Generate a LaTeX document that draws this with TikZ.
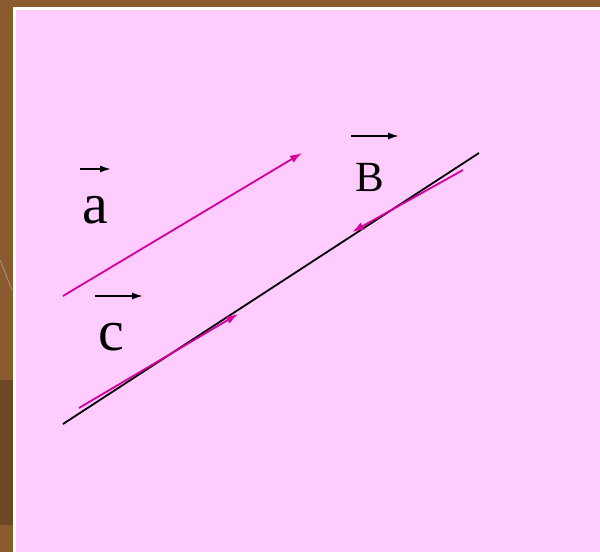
\documentclass[tikz,border=0pt]{standalone}
\usepackage{fontspec}
\setmainfont{Liberation Serif}
\usetikzlibrary{arrows.meta}
\definecolor{bgbrown}{HTML}{8B5A2E}
\definecolor{darkbrown}{HTML}{6E4826}
\definecolor{panelpink}{HTML}{FFCCFF}
\definecolor{vecmag}{HTML}{D4009A}
\tikzset{
  vec/.style={draw=vecmag, line width=1.8pt, -{Latex[length=12pt,width=8pt]}},
  baseline/.style={draw=black, line width=1.8pt},
  labelarrow/.style={draw=black, line width=1.6pt, -{Latex[length=11pt,width=7pt]}},
  biglabel/.style={font=\fontsize{58}{60}\selectfont, inner sep=0pt},
  midlabel/.style={font=\fontsize{43}{45}\selectfont, inner sep=0pt}
}
\begin{document}
\begin{tikzpicture}[x=1pt,y=-1pt]
\useasboundingbox (0,0) rectangle (600,552);
\fill[bgbrown] (0,0) rectangle (600,552);
\fill[darkbrown] (0,380) rectangle (14,525);
\draw[bgbrown!70!white, line width=1pt] (0,260) -- (12,290);
\fill[white] (13,7) rectangle (600,552);
\fill[panelpink] (16,10) rectangle (600,552);

% main black line
\coordinate (L1) at (63,424);
\coordinate (L2) at (479,153);
\draw[baseline] (L1) -- (L2);

% vector a
\coordinate (a1) at (63,296);
\coordinate (a2) at (302,153);
\draw[vec] (a1) -- (a2);

% vector B
\coordinate (b1) at (463,170);
\coordinate (b2) at (352,232);
\draw[vec] (b1) -- (b2);

% vector c
\coordinate (c1) at (79,408);
\coordinate (c2) at (238,314);
\draw[vec] (c1) -- (c2);

% labels
\node[biglabel, anchor=base] (la) at (95,223) {a};
\coordinate (la1) at (80,169);
\coordinate (la2) at (111,169);
\draw[labelarrow] (la1) -- (la2);

\node[midlabel, anchor=base] (lb) at (370,191) {B};
\coordinate (lb1) at (351,136);
\coordinate (lb2) at (399,136);
\draw[labelarrow] (lb1) -- (lb2);

\node[biglabel, anchor=base] (lc) at (111,350) {c};
\coordinate (lc1) at (95,296);
\coordinate (lc2) at (143,296);
\draw[labelarrow] (lc1) -- (lc2);
\end{tikzpicture}
\end{document}
